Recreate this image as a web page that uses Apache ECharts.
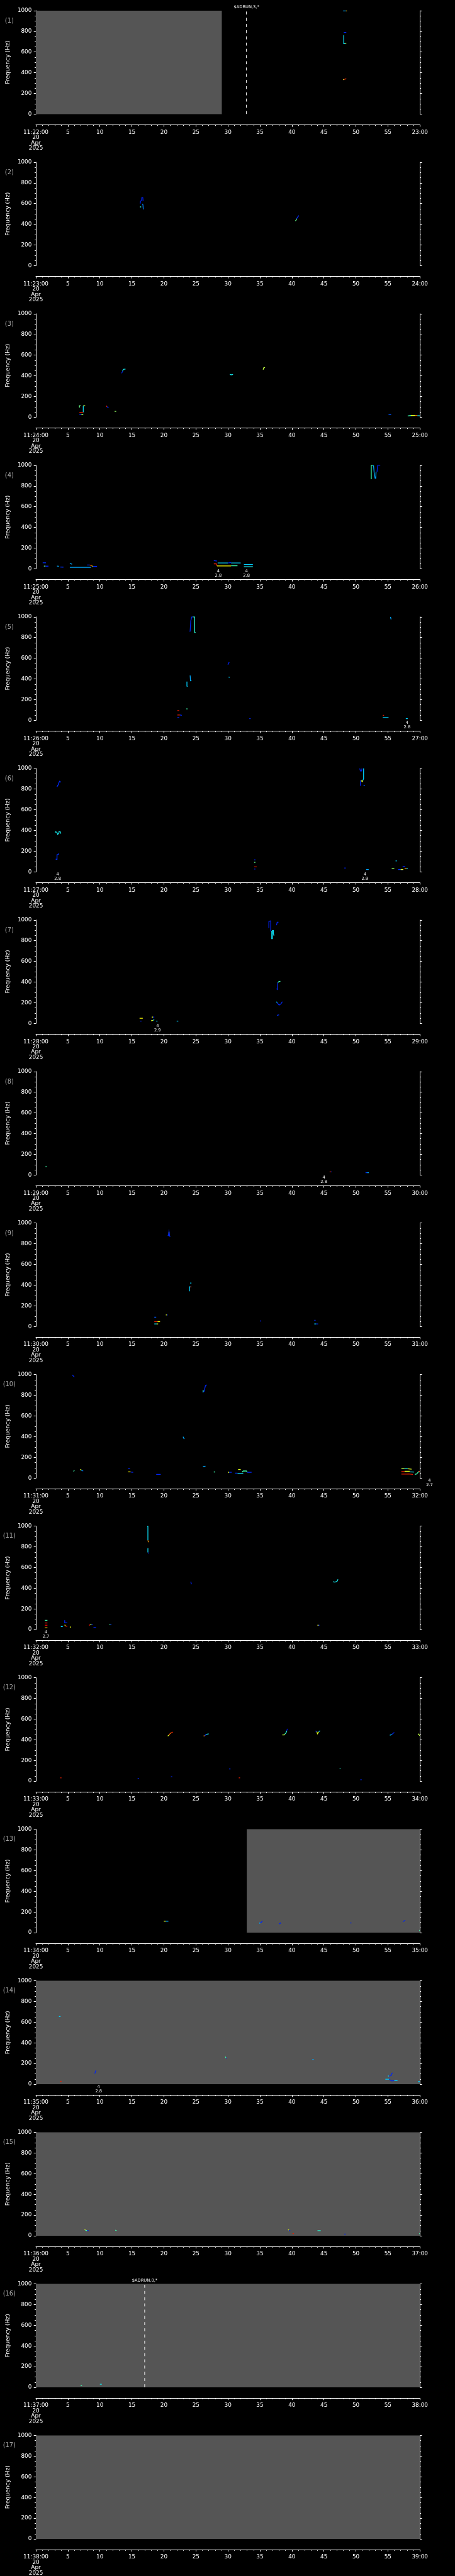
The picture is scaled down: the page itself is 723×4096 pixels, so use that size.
<!DOCTYPE html>
<html><head><meta charset="utf-8">
<script src="https://cdn.jsdelivr.net/npm/echarts@6/dist/echarts.min.js"></script>
<style>html,body{margin:0;padding:0;background:#000;}#c{width:723px;height:4096px;}</style>
</head><body><div id="c"></div>
<script>
// ---------------- DATA ----------------
const panelStarts = ['11:22:00','11:23:00','11:24:00','11:25:00','11:26:00','11:27:00','11:28:00','11:29:00','11:30:00','11:31:00','11:32:00','11:33:00','11:34:00','11:35:00','11:36:00','11:37:00','11:38:00'];
const panelEnds = ['23:00','24:00','25:00','26:00','27:00','28:00','29:00','30:00','31:00','32:00','33:00','34:00','35:00','36:00','37:00','38:00','39:00'];
const dateText = ['20','Apr','2025'];
const xTickStep = 5;      // seconds
const freqTicks = [0, 200, 400, 600, 800, 1000];
// no-data (gray) intervals, seconds, per panel (null = none)
const grayRanges = [[0,29.05],null,null,null,null,null,null,null,null,null,null,null,[32.95,60],[0,60],[0,60],[0,60],[0,60]];
// event markers: panel index (0-based), time (s), label
const eventPanels = [0, 15];
const eventTimes = [32.9, 17.0];
const eventLabels = ['$ADRUN,3,*', '$ADRUN,0,*'];
// peak annotations: panel index, time (s), text
const notePanels = [3, 3, 4, 5, 5, 6, 7, 9, 10, 13];
const noteTimes = [28.5, 32.9, 58.0, 3.4, 51.4, 19.0, 45.0, 61.5, 1.57, 9.8];
const noteTexts = ['4\n2.8', '4\n2.8', '4\n2.8', '4\n2.8', '4\n2.9', '4\n2.9', '4\n2.8', '4\n2.7', '4\n2.7', '4\n2.8'];
// spectrogram traces per panel: [intensity, t1,f1, t2,f2, ...]
const tracesP1 = [
 [0.3,48.0,997,48.45,997],[0.8,48.45,997,48.6,997],[0.12,48.1,789,48.5,789],
 [0.38,48.05,760,48.1,760,48.1,682,48.3,682],[0.6,48.3,683,48.5,683],
 [0.95,48.05,335,48.3,338,48.5,343],[0.65,48.0,333,48.1,334]
];
const tracesP2 = [
 [0.1,16.3,600,16.35,625,16.5,630,16.55,658,16.7,658,16.75,625],[0.45,16.25,568,16.45,568],
 [0.25,16.6,597,16.72,590,16.78,544],[0.55,40.55,432,40.65,440,40.75,455],[0.12,40.75,455,40.9,470,41.1,484]
];
const tracesP3 = [
 [0.55,6.8,93,6.8,111,7.0,111],[0.65,7.4,111,7.7,111],[0.38,7.4,111,7.4,46],[0.97,6.8,47,7.4,47],
 [0.12,6.8,25,7.1,25],[0.6,7.1,25,7.4,25],[0.97,11.0,112,11.1,100],[0.12,11.1,100,11.35,94],
 [0.6,12.3,56,12.55,56],[0.1,13.4,425,13.55,445],[0.4,13.55,445,13.65,462,14.0,465],
 [0.4,30.3,415,30.5,410,30.8,414],[0.65,35.5,460,35.6,478,35.8,481],[0.2,55.1,29,55.5,24],
 [0.5,58.1,12,58.6,16],[0.7,58.6,16,59.3,17],[0.9,59.3,17,59.6,17],[0.4,59.6,15,60,14]
];
const tracesP4 = [
 [0.5,52.4,865,52.4,1000,52.7,1000],[0.3,52.75,1000,52.85,930,53.0,876,53.1,876,53.15,935],
 [0.1,53.3,935,53.4,1000,53.8,1000],
 [0.15,1.06,58,1.57,58],[0.55,1.25,26,1.5,26],[0.12,1.5,25,1.96,25],[0.3,3.3,26,3.6,24],
 [0.15,3.8,17,4.3,16],[0.3,5.3,52,5.66,44],[0.3,5.3,14,8.6,14],[0.12,8.0,37,8.4,37],
 [0.95,8.4,37,8.7,30],[0.75,8.7,30,8.9,22],[0.12,8.9,22,9.55,22],[0.1,27.8,79,28.3,75],
 [0.35,28.4,56,30.0,56],[0.12,30.0,56,30.5,60],[0.35,30.5,56,32.0,56],[0.97,27.8,48,28.2,48,28.3,27],
 [0.75,28.3,27,30.5,27],[0.5,30.5,29,31.5,29],[0.35,32.5,41,33.9,41],[0.4,32.5,19,33.9,19]
];
const tracesP5 = [
 [0.12,24.0,862,24.1,862,24.2,960,24.35,1000,24.5,1000],[0.45,24.5,1000,24.8,1000,24.8,849,24.95,849],
 [0.3,55.4,1000,55.5,975],[0.1,30.0,538,30.1,550,30.2,562],[0.35,30.1,418,30.3,416],
 [0.3,24.1,434,24.15,383,24.3,385],[0.35,23.6,375,23.6,330,23.7,327],[0.5,23.5,111,23.7,110],
 [0.97,22.1,94,22.4,94],[0.97,22.1,51,22.5,51],[0.12,22.5,51,22.8,49],[0.12,22.1,25,22.4,25],
 [0.12,33.35,17,33.55,17],[0.97,54.2,48,54.4,48],[0.35,54.2,25,55.1,25],[0.35,57.8,17,58.1,17]
];
const tracesP6 = [
 [0.12,3.3,821,3.4,835,3.5,842,3.6,862,3.7,876,3.9,866],[0.1,50.6,1000,50.7,975,50.9,975,50.95,1000],
 [0.35,51.2,1000,51.2,899,51.05,880],[0.7,50.8,883,51.0,872,51.1,885],[0.1,50.7,883,50.7,832],
 [0.2,51.2,835,51.4,832],[0.4,3.0,380,3.1,388,3.3,380,3.4,362,3.6,375,3.6,388,3.8,388,3.9,370],
 [0.15,3.1,122,3.3,122,3.3,166,3.5,168,3.6,177],[0.1,34.1,116,34.3,116],[0.55,34.1,92,34.3,92],
 [0.97,34.1,48,34.5,48],[0.1,34.1,27,34.3,27],[0.1,48.2,37,48.4,37],[0.3,51.6,23,52.0,23],
 [0.35,56.2,106,56.4,106],[0.6,55.6,31,56.0,31],[0.15,56.6,23,57.4,23],[0.7,57.0,22,57.4,22],
 [0.12,57.3,51,57.7,51],[0.85,57.6,31,57.9,31],[0.35,57.9,33,58.1,33]
];
const tracesP7 = [
 [0.1,36.4,921,36.4,984,36.6,990,36.7,990,36.7,890],
 [0.38,36.85,895,36.85,819,36.95,819,36.95,898,37.1,898,37.1,870,37.2,848],
 [0.1,37.6,949,37.7,978,37.9,978],[0.12,37.6,335,37.75,328,37.8,395],[0.5,37.8,395,38.0,405,38.2,407],
 [0.35,37.6,210,37.7,200],[0.12,37.7,200,38.0,177,38.3,190,38.5,210],[0.15,37.7,74,37.8,82,38.0,82],
 [0.75,16.2,50,16.7,50],[0.12,16.3,22,16.5,22],[0.7,18.1,61,18.3,61],[0.12,18.3,61,18.5,61],
 [0.7,18.0,25,18.3,30],[0.4,18.3,30,18.5,36],[0.35,18.8,22,19.0,22],[0.35,22.0,22,22.25,22]
];
const tracesP8 = [
 [0.5,1.5,80,1.7,80],[0.97,45.9,30,46.1,30],[0.12,46.1,30,46.2,30],[0.15,51.5,22,51.8,22],[0.35,51.8,22,52.0,22]
];
const tracesP9 = [
 [0.12,20.6,885,20.7,880,20.8,918,20.9,873,21.0,870],[0.75,20.75,905,20.85,905],[0.35,24.1,420,24.3,420],
 [0.35,24.0,340,24.0,383,24.15,383],[0.97,24.15,383,24.3,383],[0.2,18.5,90,18.8,90],[0.97,18.5,47,19.0,47],
 [0.75,19.0,47,19.4,47],[0.4,18.5,25,18.9,25],[0.7,18.9,25,19.1,25],[0.7,20.3,112,20.45,112],
 [0.12,20.45,112,20.6,112],[0.1,35.0,54,35.2,53],[0.12,43.5,60,43.7,60],[0.35,43.5,25,43.8,25],[0.12,43.8,25,44.1,25]
];
const tracesP10 = [
 [0.12,5.7,997,6.0,976],[0.12,26.1,829,26.2,835,26.3,840,26.4,870,26.5,895,26.7,900],[0.45,26.1,829,26.15,852],
 [0.3,23.0,400,23.1,385,23.2,378],[0.12,14.4,93,14.7,93],[0.3,26.1,112,26.5,114],[0.5,5.9,63,6.0,76],
 [0.7,6.9,82,7.1,78],[0.35,7.1,78,7.3,70],[0.12,7.3,70,7.4,68],[0.75,14.4,60,14.8,60],[0.12,14.8,58,15.2,56],
 [0.12,18.8,36,19.5,36],[0.5,27.8,59,28.0,59],[0.7,30.0,56,30.2,56],[0.12,30.2,56,30.6,56],[0.15,31.1,48,31.5,48],
 [0.38,31.5,46,32.4,46],[0.7,31.6,82,32.0,82],[0.5,32.2,56,32.4,68,32.9,68,33.0,58],[0.12,33.0,56,33.7,56],
 [0.65,57.1,93,57.6,90],[0.4,57.6,90,58.1,90],[0.7,58.1,90,58.7,86],[0.97,57.1,62,57.6,62],[0.7,57.6,65,58.4,65],
 [0.4,58.4,60,59.1,58],[0.97,57.1,38,58.0,38,58.2,40,58.9,35],[0.5,59.2,35,59.5,40,59.8,62,60,62],[0.97,59.8,64,60,64]
];
const tracesP11 = [
 [0.38,17.4,998,17.5,998,17.5,862],[0.85,17.5,862,17.6,845],[0.38,17.45,784,17.5,784,17.5,745],[0.1,17.55,745,17.6,735],
 [0.1,24.2,464,24.3,438],[0.4,46.4,462,46.7,459,46.9,462,47.1,470,47.2,486],[0.5,1.4,90,1.8,90],[0.97,1.4,64,1.8,64],
 [1.0,1.4,42,1.8,42],[0.8,1.4,17,1.8,17],[0.1,4.5,90,4.5,66,4.9,66],[0.35,3.9,30,4.2,30],[0.75,4.5,47,4.6,35],
 [0.97,4.6,35,4.9,30],[0.72,5.3,25,5.5,25],[0.97,8.3,41,8.5,47],[0.6,8.5,47,8.7,52],[0.12,8.7,52,8.9,52],
 [0.12,9.0,20,9.4,20],[0.5,11.5,47,11.65,47],[0.12,11.65,47,11.8,47],[0.75,44.0,42,44.15,42],[0.12,44.15,42,44.3,42]
];
const tracesP12 = [
 [0.7,20.6,436,20.8,446],[0.9,20.8,446,21.0,462,21.2,470],[0.97,21.2,470,21.4,474],[0.85,26.2,436,26.4,440],
 [0.12,26.4,440,26.6,452],[0.4,26.6,452,27.0,458],[0.65,38.5,447,38.8,447,38.9,455],[0.45,38.9,455,39.1,470,39.2,487],
 [0.05,39.2,487,39.3,506],[0.12,43.7,485,43.9,478],[0.7,43.9,478,44.0,458,44.2,478],[0.35,44.2,478,44.4,487],
 [0.35,55.3,444,55.6,450],[0.12,55.6,450,55.8,462,56.0,471],[0.65,59.7,458,60,440],[0.97,3.8,32,4.0,32],
 [0.12,15.9,27,16.1,27],[0.12,21.1,43,21.3,43],[0.12,30.2,119,30.4,117],[0.97,31.7,32,31.9,32],
 [0.45,47.5,127,47.55,119],[0.12,50.7,14,50.9,14]
];
const tracesP13 = [
 [0.7,20.0,111,20.3,111],[0.3,20.3,111,20.7,111],[0.12,34.9,93,35.2,100,35.4,114],[0.35,34.9,93,35.05,93],
 [0.12,38.0,85,38.3,96],[0.12,49.1,94,49.3,94],[0.12,57.4,107,57.5,112,57.7,121],[0.5,59.9,22,60,22]
];
const tracesP14 = [
 [0.35,3.6,655,3.85,655],[0.12,9.2,103,9.3,120,9.4,135],[0.97,3.8,29,4.0,29],[0.5,29.6,267,29.7,254],
 [0.12,29.7,254,29.85,254],[0.3,43.2,240,43.4,240],[0.35,55.0,81,55.2,79],[0.12,55.2,79,55.5,85,55.7,111],
 [0.35,54.6,48,55.2,48],[0.12,55.2,48,55.6,32,56.0,35],[0.35,56.0,35,56.5,35],[0.35,59.7,25,60,25]
];
const tracesP15 = [
 [0.7,7.6,60,7.75,55],[0.5,7.75,55,8.0,50],[0.12,8.0,50,8.25,50],[0.5,12.4,55,12.6,50],[0.7,39.4,60,39.55,55],
 [0.12,39.55,50,39.75,50],[0.97,40.1,21,40.3,21],[0.45,44.0,50,44.5,50],[0.12,48.2,16,48.4,16],[0.5,59.9,21,60,21]
];
const tracesP16 = [
 [0.5,7.0,20,7.2,20],[0.4,10.0,30,10.3,30]
];
const tracesP17 = [];
const allTraces = [tracesP1,tracesP2,tracesP3,tracesP4,tracesP5,tracesP6,tracesP7,tracesP8,tracesP9,tracesP10,tracesP11,tracesP12,tracesP13,tracesP14,tracesP15,tracesP16,tracesP17];

// ---------------- LAYOUT ----------------
const S = 723 / 1024;
const R = v => v * S;
const PITCH = 5802 / 17;
const FONT = 'DejaVu Sans';
const WHITE = '#ffffff';

function cmap(v) {
  const st = [[0,[0,0,200]],[0.15,[0,48,255]],[0.35,[0,208,255]],[0.5,[64,255,176]],[0.65,[192,255,64]],[0.75,[255,255,0]],[0.87,[255,128,0]],[1,[224,0,0]]];
  v = Math.max(0, Math.min(1, v));
  for (let i = 1; i < st.length; i++) {
    if (v <= st[i][0]) {
      const a = st[i-1], b = st[i], f = (v - a[0]) / (b[0] - a[0]);
      const c = a[1].map((x, j) => Math.round(x + (b[1][j] - x) * f));
      return 'rgb(' + c.join(',') + ')';
    }
  }
  return 'rgb(224,0,0)';
}

const grids = [], xAxes = [], yAxes = [], series = [], graphics = [];
for (let k = 0; k < 17; k++) {
  const P = k * PITCH;
  grids.push({ left: R(80.5), top: R(P + 24), width: R(864.5), height: R(233) });
  const start = panelStarts[k], end = panelEnds[k];
  xAxes.push({
    type: 'value', gridIndex: k, min: 0, max: 60, interval: xTickStep, position: 'bottom', offset: R(24),
    axisLine: { show: true, onZero: false, lineStyle: { color: WHITE, width: 1 } },
    axisTick: { show: true, length: R(4.6), lineStyle: { color: WHITE, width: 1 } },
    minorTick: { show: true, splitNumber: 5, length: R(2.6), lineStyle: { color: WHITE, width: 1 } },
    splitLine: { show: false },
    axisLabel: {
      color: WHITE, fontFamily: FONT, fontSize: R(12.6), lineHeight: R(12), margin: R(11),
      showMinLabel: true, showMaxLabel: true,
      formatter: v => v === 0 ? [start].concat(dateText).join('\n') : (v === 60 ? end : String(v))
    }
  });
  const yCommon = {
    type: 'value', gridIndex: k, min: freqTicks[0], max: freqTicks[freqTicks.length - 1], interval: freqTicks[1] - freqTicks[0],
    axisLine: { show: true, lineStyle: { color: WHITE, width: 1 } },
    axisTick: { show: true, length: R(4.7), lineStyle: { color: WHITE, width: 1 } },
    minorTick: { show: true, splitNumber: 4, length: R(2.7), lineStyle: { color: WHITE, width: 1 } },
    splitLine: { show: false }
  };
  yAxes.push(Object.assign({}, yCommon, {
    position: 'left',
    axisLabel: { color: WHITE, fontFamily: FONT, fontSize: R(12.5), margin: R(9.5), formatter: v => String(v) },
    name: 'Frequency (Hz)', nameLocation: 'middle', nameRotate: 90, nameGap: R(50),
    nameTextStyle: { color: WHITE, fontFamily: FONT, fontSize: R(13) }
  }));
  yAxes.push(Object.assign({}, yCommon, { position: 'right', axisLabel: { show: false } }));

  // gray no-data band
  if (grayRanges[k]) {
    series.push({
      type: 'custom', xAxisIndex: k, yAxisIndex: 2 * k, silent: true, z: 1, animation: false,
      data: [grayRanges[k]],
      renderItem: (params, api) => {
        const p0 = api.coord([api.value(0), 1000]);
        const p1 = api.coord([api.value(1), 0]);
        return { type: 'rect', shape: { x: p0[0], y: p0[1], width: p1[0] - p0[0], height: p1[1] - p0[1] }, style: { fill: '#555555' } };
      }
    });
  }
  // spectrogram traces
  series.push({
    type: 'lines', coordinateSystem: 'cartesian2d', xAxisIndex: k, yAxisIndex: 2 * k, polyline: true,
    silent: true, z: 5, animation: false,
    lineStyle: { width: 1.3, opacity: 1 },
    data: allTraces[k].map(tr => {
      const coords = [];
      for (let i = 1; i < tr.length; i += 2) coords.push([tr[i], tr[i + 1]]);
      return { coords: coords, lineStyle: { color: cmap(tr[0]) } };
    })
  });
  // event markers
  const evIdx = [];
  eventPanels.forEach((p, i) => { if (p === k) evIdx.push(i); });
  if (evIdx.length) {
    series.push({
      type: 'custom', xAxisIndex: k, yAxisIndex: 2 * k, silent: true, z: 6, animation: false, clip: false,
      data: evIdx.map(i => [eventTimes[i], 0]),
      renderItem: (params, api) => {
        const i = evIdx[params.dataIndex];
        const top = api.coord([api.value(0), 1000]);
        const bot = api.coord([api.value(0), 0]);
        return { type: 'group', children: [
          { type: 'line', shape: { x1: top[0], y1: top[1] + R(2), x2: bot[0], y2: bot[1] },
            style: { stroke: WHITE, lineWidth: 1, lineDash: [R(6.7), R(7.3)] } },
          { type: 'text', x: top[0], y: top[1] - R(8),
            style: { text: eventLabels[i], fill: WHITE, fontFamily: FONT, fontSize: R(9.5), align: 'center', verticalAlign: 'middle' } }
        ] };
      }
    });
  }
  // peak notes
  const nIdx = [];
  notePanels.forEach((p, i) => { if (p === k) nIdx.push(i); });
  if (nIdx.length) {
    series.push({
      type: 'custom', xAxisIndex: k, yAxisIndex: 2 * k, silent: true, z: 6, animation: false, clip: false,
      data: nIdx.map(i => [noteTimes[i], 0]),
      renderItem: (params, api) => {
        const i = nIdx[params.dataIndex];
        const p = api.coord([api.value(0), 0]);
        return { type: 'text', x: p[0], y: p[1] + R(0.5),
          style: { text: noteTexts[i], fill: WHITE, fontFamily: FONT, fontSize: R(9.5), lineHeight: R(10), align: 'center', verticalAlign: 'top' } };
      }
    });
  }
  graphics.push({ type: 'text', x: R(21), y: R(P + 47), silent: true,
    style: { text: '(' + (k + 1) + ')', fill: '#a8a8a8', fontFamily: FONT, fontSize: R(14), align: 'center', verticalAlign: 'middle' } });
}

const chart = echarts.init(document.getElementById('c'), null, { renderer: 'canvas', width: 723, height: 4096 });
chart.setOption({
  backgroundColor: '#000000',
  animation: false,
  grid: grids, xAxis: xAxes, yAxis: yAxes, series: series, graphic: graphics
});
</script>
</body></html>
